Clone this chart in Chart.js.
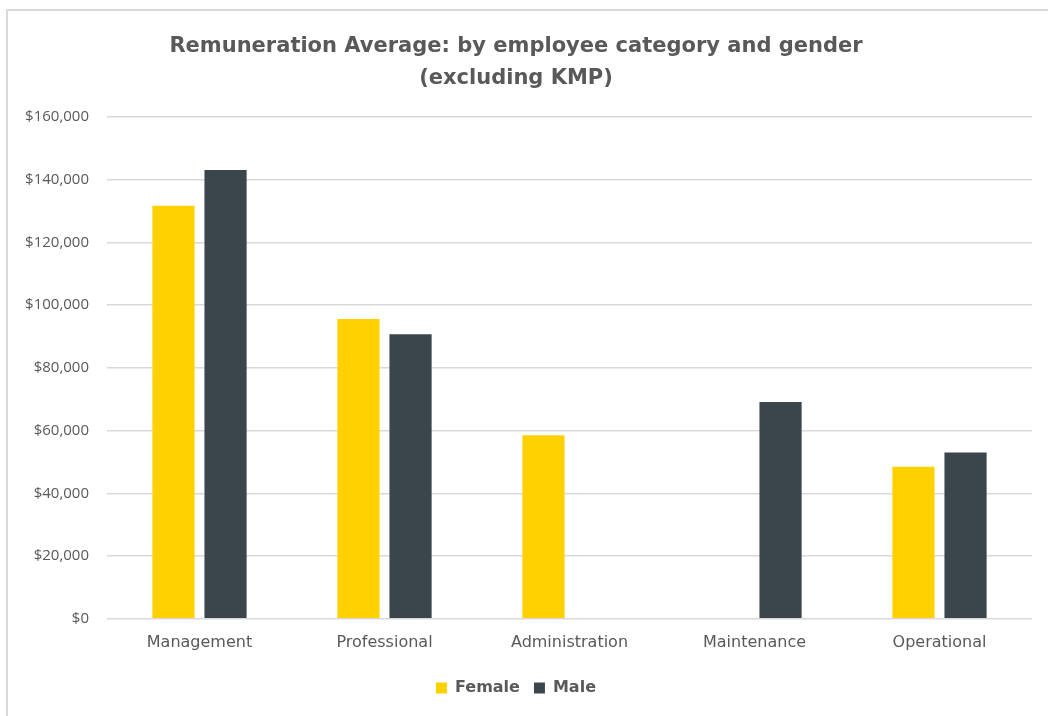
<!DOCTYPE html>
<html lang="en">
<head>
    <meta charset="UTF-8">
    <title>Remuneration Average</title>
    <script src="https://cdn.jsdelivr.net/npm/chart.js"></script>
    <style>
        html, body { margin: 0; padding: 0; background: #fff; }
        #wrap { position: relative; width: 1048px; height: 716px; }
        #frame {
            position: absolute; left: 6px; top: 9px; right: 0; bottom: 0;
            border-top: 2px solid #d9d9d9; border-left: 2px solid #d9d9d9;
            pointer-events: none;
        }
    </style>
</head>
<body>
    <div id="wrap">
        <canvas id="myChart"></canvas>
        <div id="frame"></div>
    </div>

    <script>
        // Average remuneration per employee category
        const categories = ['Management', 'Professional', 'Administration', 'Maintenance', 'Operational'];
        const femaleValues = [131700, 95600, 58500, null, 48500];
        const maleValues = [143100, 90700, null, 69100, 53000];
        const yTicks = [0, 20000, 40000, 60000, 80000, 100000, 120000, 140000, 160000];

        const textColor = '#595959';
        const gridColor = '#d9d9d9';
        const wideFont = "'DejaVu Sans', sans-serif";
        const tickFont = "'Open Sans', sans-serif";

        const ctx = document.getElementById('myChart').getContext('2d');

        const myChart = new Chart(ctx, {
            type: 'bar',
            data: {
                labels: categories,
                datasets: [
                    {
                        label: 'Female',
                        data: femaleValues,
                        backgroundColor: '#FFD100',
                        categoryPercentage: 0.563,
                        barPercentage: 0.81
                    },
                    {
                        label: 'Male',
                        data: maleValues,
                        backgroundColor: '#3B454C',
                        categoryPercentage: 0.563,
                        barPercentage: 0.81
                    }
                ]
            },
            options: {
                responsive: true,
                maintainAspectRatio: false,
                animation: false,
                layout: {
                    padding: { left: 0, right: 16, top: 0, bottom: 10 }
                },
                plugins: {
                    title: {
                        display: true,
                        text: ['Remuneration Average: by employee category and gender', '(excluding KMP)'],
                        color: textColor,
                        font: { family: wideFont, size: 21, weight: 'bold', lineHeight: 1.5 },
                        padding: { top: 31, bottom: 23 }
                    },
                    legend: {
                        position: 'bottom',
                        labels: {
                            color: textColor,
                            font: { family: wideFont, size: 16, weight: 'bold' },
                            boxWidth: 11,
                            boxHeight: 11,
                            padding: 14
                        }
                    },
                    tooltip: { enabled: false }
                },
                scales: {
                    x: {
                        grid: { display: false, drawTicks: false },
                        border: { display: false },
                        ticks: {
                            color: textColor,
                            font: { family: wideFont, size: 16 },
                            padding: 14
                        }
                    },
                    y: {
                        min: 0,
                        max: 160000,
                        afterFit: function (scale) { scale.width = 107; },
                        afterBuildTicks: function (scale) {
                            scale.ticks = yTicks.map(v => ({ value: v }));
                        },
                        grid: { color: gridColor, lineWidth: 1.5, drawTicks: false },
                        border: { display: false },
                        ticks: {
                            color: textColor,
                            font: { family: tickFont, size: 15 },
                            padding: 18,
                            callback: function (value) {
                                return '$' + value.toLocaleString('en-US');
                            }
                        }
                    }
                }
            }
        });
    </script>
</body>
</html>
